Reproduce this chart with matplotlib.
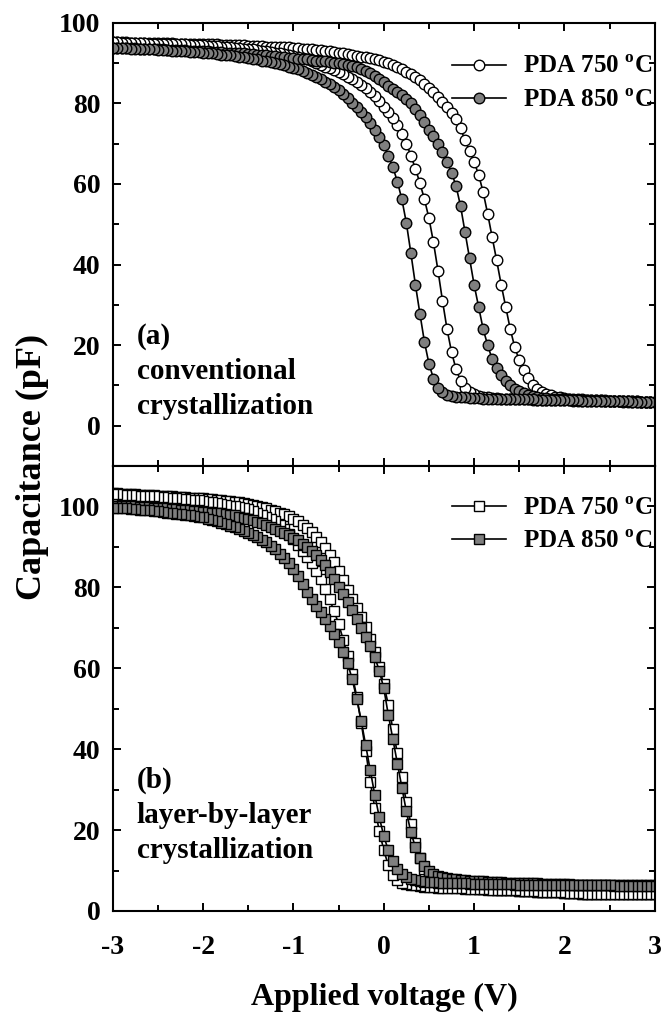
import numpy as np
import matplotlib
matplotlib.use("Agg")
import matplotlib.pyplot as plt
from matplotlib.ticker import MultipleLocator

plt.rcParams["font.family"] = "Liberation Serif"
plt.rcParams["font.weight"] = "bold"
plt.rcParams["mathtext.fontset"] = "custom"
plt.rcParams["mathtext.rm"] = "Liberation Serif:bold"
plt.rcParams["mathtext.bf"] = "Liberation Serif:bold"
plt.rcParams["axes.unicode_minus"] = False

# Gate voltage sweep, -3 V .. +3 V in 50 mV steps
volts = np.round(np.arange(-3.0, 3.0001, 0.05), 2)

# --- (a) conventional crystallization, capacitance in pF ---
conv_750_left = [
    95.1, 95.1, 95.0, 95.0, 95.0, 94.9, 94.9, 94.9, 94.8, 94.8, 94.8, 94.7, 94.7, 94.7, 94.6, 94.6,
    94.6, 94.5, 94.5, 94.5, 94.4, 94.3, 94.2, 94.2, 94.1, 94.0, 93.9, 93.8, 93.7, 93.6, 93.5, 93.4,
    93.2, 93.1, 92.9, 92.8, 92.6, 92.4, 92.2, 92.0, 91.8, 91.5, 91.2, 90.9, 90.5, 90.1, 89.6, 89.1,
    88.7, 88.2, 87.7, 87.2, 86.6, 86.0, 85.3, 84.5, 83.7, 82.8, 81.7, 80.5, 79.2, 77.8, 76.3, 74.6,
    72.5, 70.0, 67.0, 63.8, 60.2, 56.2, 51.5, 45.5, 38.5, 31.0, 24.0, 18.3, 14.0, 11.2, 9.4, 8.4,
    7.8, 7.4, 7.2, 7.0, 6.9, 6.8, 6.7, 6.7, 6.6, 6.6, 6.5, 6.5, 6.5, 6.4, 6.4, 6.4, 6.4, 6.3,
    6.3, 6.3, 6.3, 6.3, 6.2, 6.2, 6.2, 6.2, 6.2, 6.1, 6.1, 6.1, 6.1, 6.1, 6.1, 6.0, 6.0, 6.0,
    6.0, 6.0, 6.0, 6.0, 6.0,
]
conv_750_right = [
    95.1, 95.1, 95.1, 95.1, 95.0, 95.0, 95.0, 95.0, 95.0, 94.9, 94.9, 94.9, 94.9, 94.9, 94.8, 94.8,
    94.8, 94.8, 94.7, 94.7, 94.7, 94.6, 94.6, 94.6, 94.5, 94.5, 94.5, 94.4, 94.4, 94.4, 94.3, 94.3,
    94.2, 94.2, 94.1, 94.1, 94.0, 94.0, 93.9, 93.9, 93.8, 93.7, 93.6, 93.5, 93.4, 93.3, 93.2, 93.0,
    92.9, 92.7, 92.6, 92.4, 92.2, 92.0, 91.8, 91.6, 91.4, 91.2, 91.0, 90.7, 90.3, 89.9, 89.4, 88.9,
    88.4, 87.8, 87.2, 86.5, 85.7, 84.9, 83.9, 82.8, 81.6, 80.4, 79.1, 77.7, 76.1, 73.8, 70.8, 68.2,
    65.5, 62.3, 58.0, 52.6, 46.8, 41.0, 35.0, 29.5, 24.0, 19.5, 16.2, 13.8, 11.8, 10.2, 9.1, 8.4,
    7.9, 7.5, 7.2, 7.0, 6.8, 6.7, 6.6, 6.5, 6.5, 6.4, 6.4, 6.3, 6.3, 6.3, 6.2, 6.2, 6.2, 6.1,
    6.1, 6.1, 6.1, 6.0, 6.0, 6.0, 6.0,
]
conv_850_left = [
    93.8, 93.8, 93.7, 93.7, 93.6, 93.6, 93.5, 93.5, 93.4, 93.4, 93.3, 93.2, 93.2, 93.1, 93.0, 93.0,
    92.9, 92.8, 92.7, 92.7, 92.6, 92.5, 92.4, 92.3, 92.1, 92.0, 91.9, 91.7, 91.6, 91.4, 91.3, 91.1,
    90.9, 90.6, 90.4, 90.2, 89.9, 89.7, 89.4, 89.1, 88.8, 88.4, 88.0, 87.5, 87.0, 86.5, 86.0, 85.4,
    84.8, 84.1, 83.3, 82.3, 81.3, 80.2, 79.0, 77.8, 76.6, 75.1, 73.5, 71.6, 69.6, 67.0, 64.2, 60.6,
    56.2, 50.3, 42.8, 35.0, 27.8, 20.8, 15.4, 11.7, 9.4, 8.3, 7.7, 7.4, 7.2, 7.1, 7.0, 6.9,
    6.8, 6.8, 6.7, 6.7, 6.7, 6.6, 6.6, 6.6, 6.6, 6.5, 6.5, 6.5, 6.5, 6.5, 6.4, 6.4, 6.4, 6.4,
    6.3, 6.3, 6.3, 6.3, 6.3, 6.3, 6.2, 6.2, 6.2, 6.2, 6.2, 6.1, 6.1, 6.1, 6.1, 6.1, 6.1, 6.0,
    6.0, 6.0, 6.0, 6.0, 6.0,
]
conv_850_right = [
    93.8, 93.8, 93.8, 93.7, 93.7, 93.7, 93.6, 93.6, 93.5, 93.5, 93.4, 93.4, 93.3, 93.3, 93.3, 93.2,
    93.2, 93.1, 93.1, 93.0, 93.0, 92.9, 92.8, 92.8, 92.7, 92.6, 92.6, 92.5, 92.4, 92.4, 92.3, 92.2,
    92.1, 92.0, 91.9, 91.8, 91.7, 91.6, 91.4, 91.3, 91.2, 91.1, 91.0, 90.9, 90.8, 90.6, 90.5, 90.4,
    90.2, 90.1, 90.0, 89.8, 89.6, 89.3, 88.9, 88.5, 88.0, 87.5, 86.9, 86.1, 85.3, 84.4, 83.6, 82.8,
    82.0, 81.0, 80.0, 78.6, 77.1, 75.4, 73.5, 71.8, 70.0, 68.0, 65.5, 62.8, 59.5, 54.5, 48.0, 41.5,
    35.0, 29.5, 24.0, 20.0, 16.5, 14.3, 12.5, 11.0, 10.0, 9.1, 8.5, 8.0, 7.6, 7.3, 7.1, 6.9,
    6.8, 6.7, 6.6, 6.6, 6.5, 6.5, 6.4, 6.4, 6.4, 6.3, 6.3, 6.3, 6.3, 6.2, 6.2, 6.2, 6.2, 6.1,
    6.1, 6.1, 6.1, 6.0, 6.0, 6.0, 6.0,
]

# --- (b) layer-by-layer crystallization, capacitance in pF ---
lbl_750_left = [
    103.0, 103.0, 102.9, 102.9, 102.8, 102.7, 102.7, 102.6, 102.5, 102.5, 102.4, 102.3, 102.2, 102.1,
    102.0, 101.9, 101.8, 101.7, 101.6, 101.5, 101.4, 101.2, 101.0, 100.8, 100.6, 100.4, 100.2, 100.0,
    99.8, 99.6, 99.3, 98.9, 98.5, 98.0, 97.5, 97.0, 96.3, 95.5, 94.5, 93.3, 92.0, 90.5, 89.0, 87.6,
    86.0, 84.1, 82.0, 79.6, 77.0, 74.1, 71.0, 67.1, 63.0, 58.5, 53.0, 46.5, 39.5, 32.0, 25.5, 19.8,
    15.0, 11.3, 9.0, 7.7, 7.0, 6.6, 6.4, 6.3, 6.1, 6.0, 5.9, 5.9, 5.8, 5.8, 5.7, 5.7, 5.6, 5.6,
    5.5, 5.5, 5.4, 5.4, 5.4, 5.3, 5.3, 5.2, 5.2, 5.2, 5.1, 5.1, 5.0, 5.0, 4.9, 4.9, 4.8, 4.8,
    4.7, 4.7, 4.6, 4.6, 4.5, 4.5, 4.4, 4.4, 4.3, 4.3, 4.2, 4.2, 4.2, 4.1, 4.1, 4.1, 4.1, 4.1,
    4.1, 4.2, 4.2, 4.2, 4.3, 4.3, 4.3,
]
lbl_750_right = [
    103.2, 103.2, 103.1, 103.1, 103.0, 103.0, 102.9, 102.9, 102.8, 102.8, 102.7, 102.6, 102.6, 102.5,
    102.4, 102.4, 102.3, 102.2, 102.1, 102.1, 102.0, 101.9, 101.8, 101.7, 101.6, 101.4, 101.3, 101.1,
    101.0, 100.8, 100.6, 100.4, 100.1, 99.8, 99.5, 99.2, 98.9, 98.5, 98.1, 97.6, 97.0, 96.3, 95.5,
    94.6, 93.6, 92.5, 91.3, 89.8, 88.1, 86.2, 84.1, 81.8, 79.4, 77.0, 74.8, 72.6, 70.2, 67.3, 64.0,
    60.2, 56.0, 51.0, 45.0, 39.0, 33.0, 27.0, 21.5, 16.8, 13.0, 10.3, 8.6, 7.6, 7.0, 6.7, 6.4,
    6.2, 6.0, 5.9, 5.8, 5.7, 5.6, 5.5, 5.5, 5.4, 5.4, 5.3, 5.3, 5.2, 5.2, 5.1, 5.0, 5.0, 4.9,
    4.9, 4.8, 4.8, 4.7, 4.7, 4.6, 4.6, 4.5, 4.5, 4.4, 4.4, 4.3, 4.3, 4.2, 4.2, 4.2, 4.1, 4.1,
    4.1, 4.1, 4.1, 4.1, 4.2, 4.2, 4.2, 4.3, 4.3, 4.3,
]
lbl_850_left = [
    99.7, 99.6, 99.6, 99.5, 99.4, 99.3, 99.2, 99.1, 99.0, 98.9, 98.8, 98.7, 98.5, 98.4, 98.2, 98.1,
    97.9, 97.8, 97.6, 97.5, 97.3, 97.0, 96.7, 96.4, 96.0, 95.6, 95.2, 94.8, 94.4, 94.0, 93.5, 93.0,
    92.4, 91.8, 91.1, 90.3, 89.4, 88.3, 87.2, 86.0, 84.5, 82.7, 80.8, 78.9, 77.1, 75.4, 73.8, 72.2,
    70.4, 68.5, 66.4, 64.0, 61.2, 57.3, 52.5, 47.0, 41.0, 34.8, 28.7, 23.2, 18.5, 15.0, 12.3, 10.3,
    9.1, 8.3, 7.9, 7.6, 7.4, 7.2, 7.1, 7.1, 7.0, 7.0, 6.9, 6.9, 6.8, 6.8, 6.8, 6.7, 6.7, 6.7,
    6.7, 6.7, 6.6, 6.6, 6.6, 6.6, 6.6, 6.5, 6.5, 6.5, 6.5, 6.5, 6.5, 6.4, 6.4, 6.4, 6.4, 6.4,
    6.4, 6.4, 6.4, 6.3, 6.3, 6.3, 6.3, 6.3, 6.3, 6.3, 6.3, 6.2, 6.2, 6.2, 6.2, 6.2, 6.2, 6.2,
    6.2, 6.2, 6.2,
]
lbl_850_right = [
    100.2, 100.2, 100.1, 100.1, 100.0, 100.0, 99.9, 99.9, 99.8, 99.7, 99.6, 99.6, 99.5, 99.4, 99.3,
    99.2, 99.1, 99.0, 98.9, 98.8, 98.7, 98.6, 98.5, 98.4, 98.3, 98.1, 98.0, 97.8, 97.5, 97.2, 96.9,
    96.6, 96.2, 95.8, 95.4, 95.0, 94.5, 94.0, 93.5, 93.0, 92.3, 91.6, 90.8, 89.9, 88.9, 87.9, 86.7,
    85.4, 83.9, 82.1, 80.2, 78.3, 76.4, 74.3, 72.2, 70.0, 67.8, 65.4, 62.8, 59.4, 55.0, 48.5, 42.5,
    36.4, 30.5, 24.6, 19.4, 15.8, 13.0, 11.0, 9.8, 9.1, 8.7, 8.4, 8.2, 8.0, 7.9, 7.7, 7.6, 7.5,
    7.4, 7.3, 7.3, 7.2, 7.2, 7.1, 7.1, 7.0, 7.0, 6.9, 6.9, 6.9, 6.8, 6.8, 6.8, 6.7, 6.7, 6.7,
    6.6, 6.6, 6.6, 6.6, 6.5, 6.5, 6.5, 6.5, 6.5, 6.4, 6.4, 6.4, 6.4, 6.4, 6.4, 6.3, 6.3, 6.3,
    6.3, 6.3, 6.3, 6.3, 6.3,
]

labels = ["PDA 750 $^{\\rm o}$C", "PDA 850 $^{\\rm o}$C"]
gray = "#7f7f7f"


def loop(v, up, down):
    # one hysteresis loop: up-sweep on the right branch, back along the left one
    v = np.asarray(v)
    return np.concatenate([v, v[::-1]]), np.concatenate([up, down[::-1]])


def style_axes(ax):
    ax.set_xlim(-3, 3)
    ax.xaxis.set_major_locator(MultipleLocator(1))
    ax.xaxis.set_minor_locator(MultipleLocator(0.5))
    ax.yaxis.set_major_locator(MultipleLocator(20))
    ax.yaxis.set_minor_locator(MultipleLocator(10))
    ax.tick_params(which="both", direction="in", top=True, right=True, width=1.4)
    ax.tick_params(which="major", length=6)
    ax.tick_params(which="minor", length=4)
    ax.tick_params(axis="y", labelsize=20, pad=9)
    ax.tick_params(axis="x", labelsize=20, pad=17)
    for sp in ax.spines.values():
        sp.set_linewidth(1.5)


fig = plt.figure(figsize=(6.64, 10.15), dpi=100)
ax_a = fig.add_axes([0.170, 0.5409, 0.816, 0.4367])
ax_b = fig.add_axes([0.170, 0.1025, 0.816, 0.4384], sharex=ax_a)

line_kw = dict(color="black", lw=1.2, markeredgecolor="black", markeredgewidth=1.0)

x, y = loop(volts, conv_750_right, conv_750_left)
ax_a.plot(x, y, marker="o", ms=7.6, markerfacecolor="white", label=labels[0], **line_kw)
x, y = loop(volts, conv_850_right, conv_850_left)
ax_a.plot(x, y, marker="o", ms=7.6, markerfacecolor=gray, label=labels[1], **line_kw)

x, y = loop(volts, lbl_750_right, lbl_750_left)
ax_b.plot(x, y, marker="s", ms=7.0, markerfacecolor="white", label=labels[0], **line_kw)
x, y = loop(volts, lbl_850_right, lbl_850_left)
ax_b.plot(x, y, marker="s", ms=7.0, markerfacecolor=gray, label=labels[1], **line_kw)

ax_a.set_ylim(-10, 100)
ax_b.set_ylim(0, 110)
style_axes(ax_a)
style_axes(ax_b)
ax_a.tick_params(axis="x", labelbottom=False)
ax_b.set_yticks([0, 20, 40, 60, 80, 100])

for ax, top in ((ax_a, 0.932), (ax_b, 0.937)):
    ax.legend(loc="upper right", bbox_to_anchor=(1.0, top), frameon=False,
              fontsize=18, handlelength=2.15, handletextpad=0.7, labelspacing=0.42,
              borderaxespad=0.1, borderpad=0.0)

for ax, lines in ((ax_a, ["(a)", "conventional", "crystallization"]),
                  (ax_b, ["(b)", "layer-by-layer", "crystallization"])):
    for i, s in enumerate(lines):
        ax.text(0.044, 0.293 - 0.079 * i, s, transform=ax.transAxes,
                fontsize=21, fontweight="bold", va="center", ha="left")

fig.text(32 / 664, 1 - 467 / 1015, "Capacitance (pF)", rotation=90,
         fontsize=26, fontweight="bold", ha="center", va="center")
fig.text(384 / 664, 1 - 997 / 1015, "Applied voltage (V)",
         fontsize=23, fontweight="bold", ha="center", va="center")

fig.savefig("out.png", dpi=100)
